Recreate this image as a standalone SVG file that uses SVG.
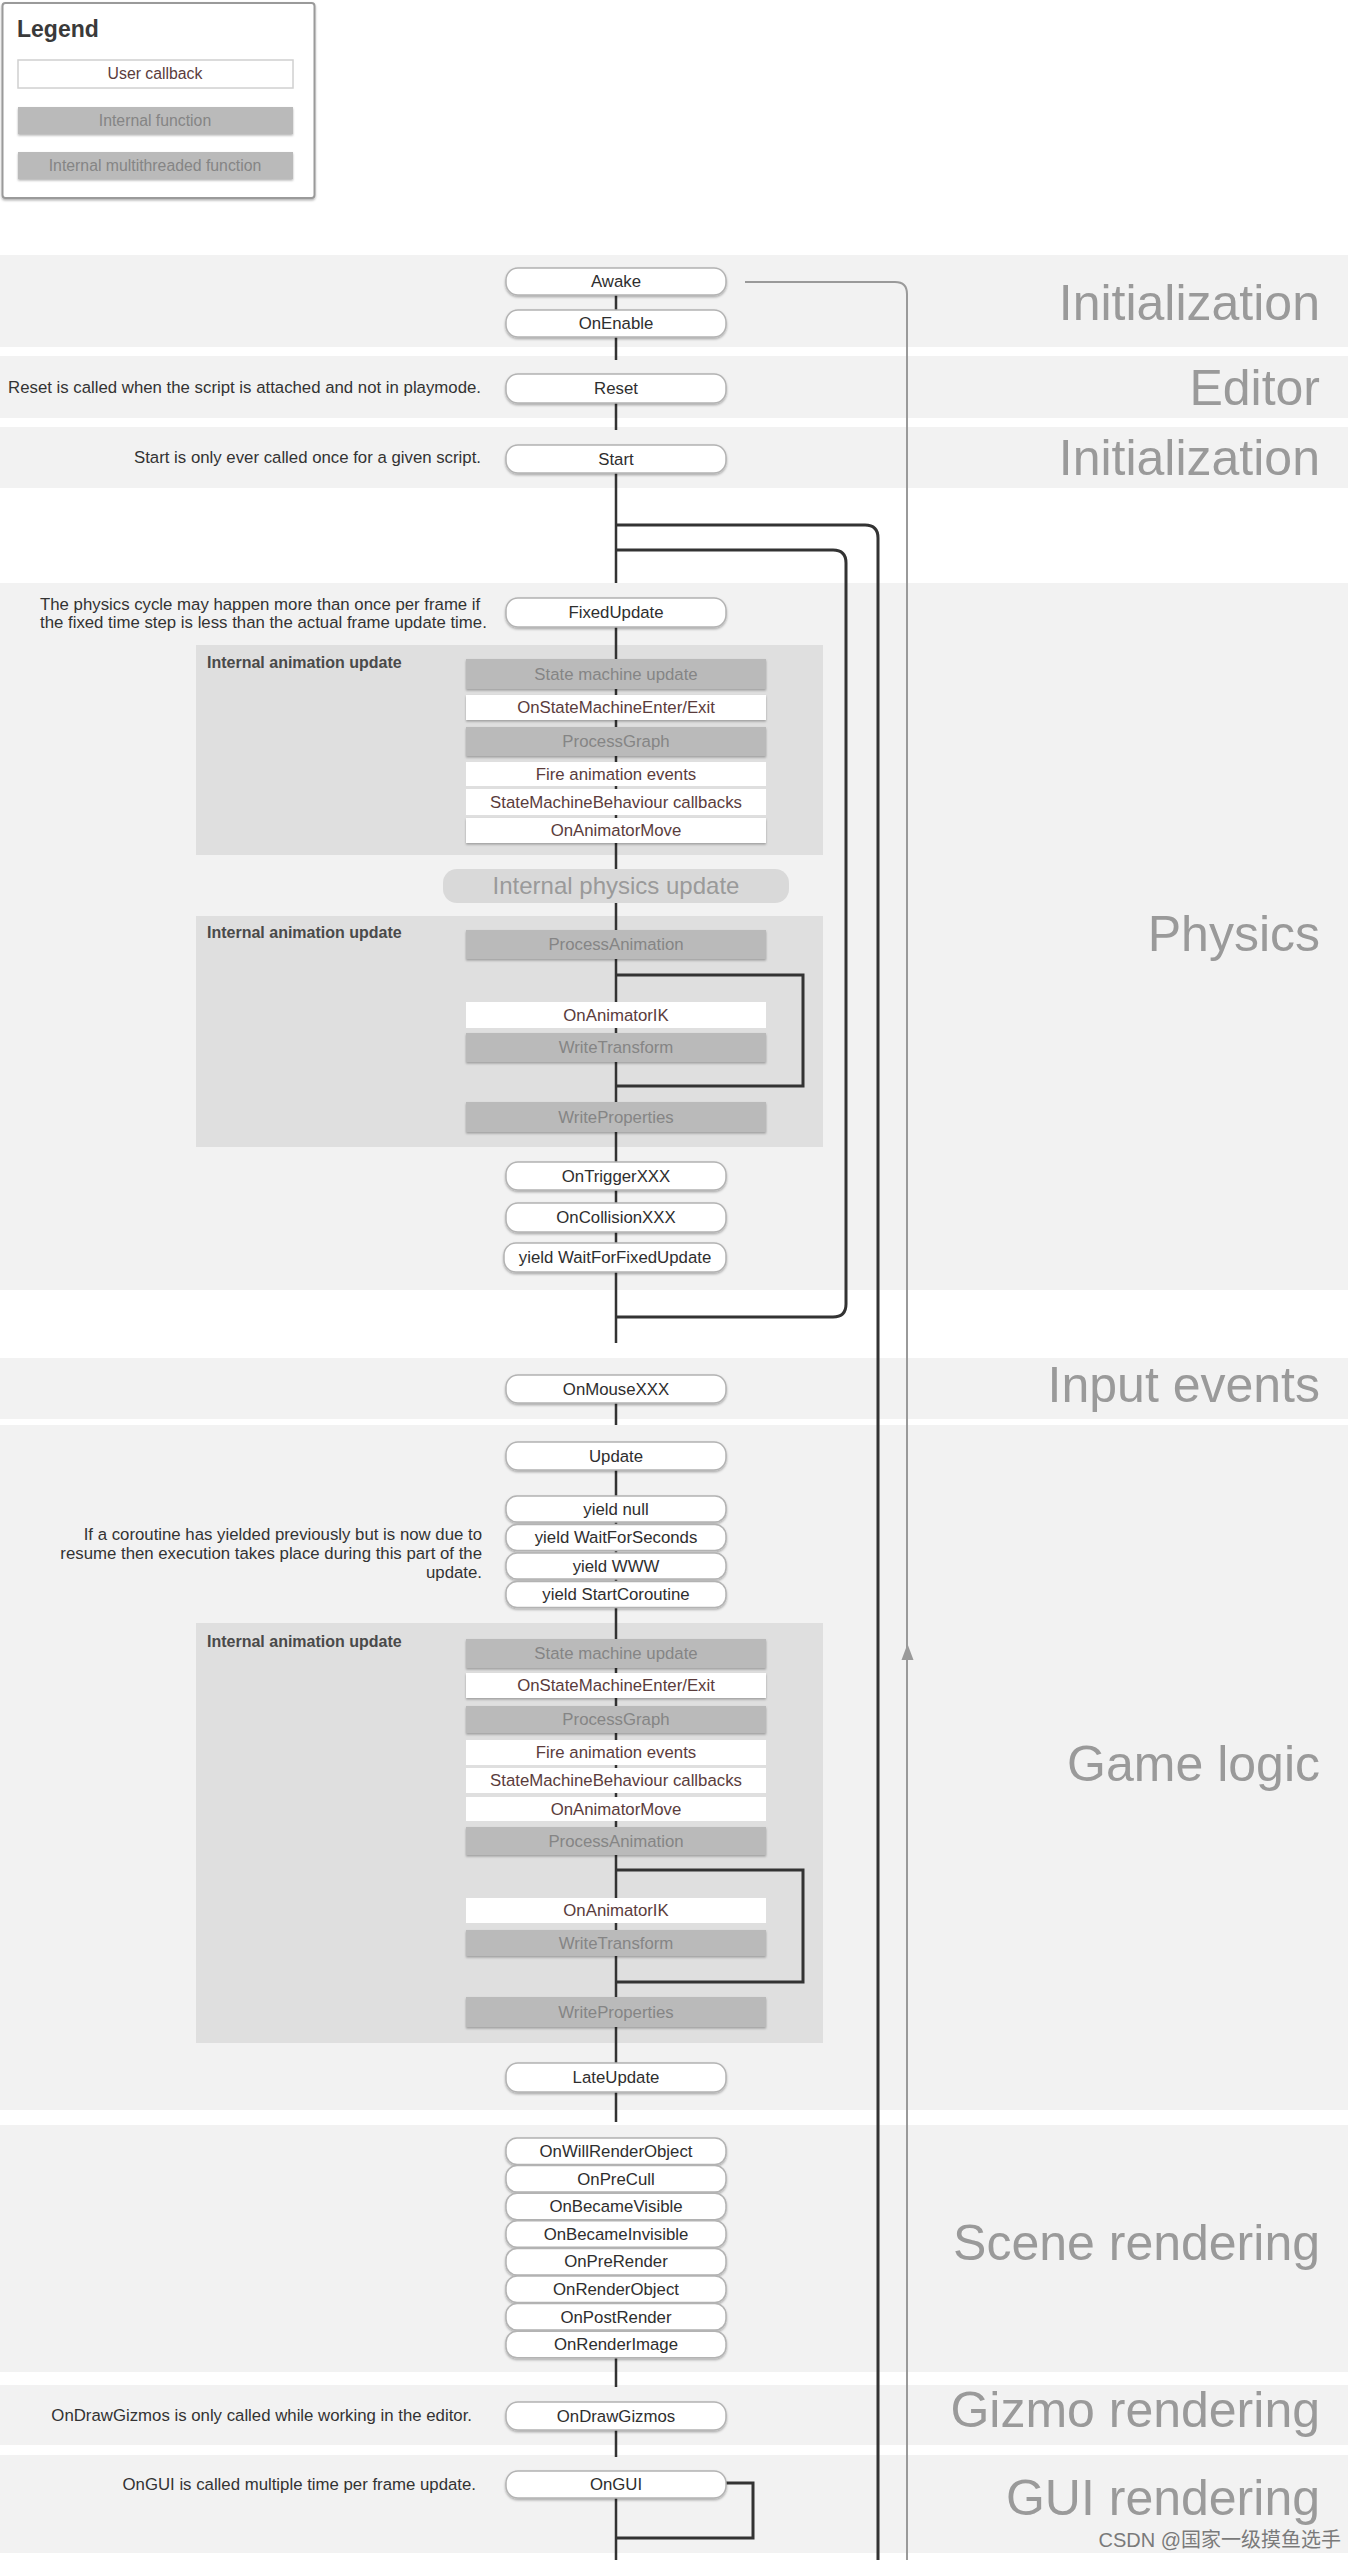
<svg xmlns="http://www.w3.org/2000/svg" width="1358" height="2560" viewBox="0 0 1358 2560">
<style>
text{font-family:"Liberation Sans",Arial,sans-serif}
.band{fill:#f2f2f2}
.title{font-size:50px;fill:#9a9a9a;text-anchor:end}
.note{font-size:16.8px;fill:#333}
.node rect.n{fill:#fff;stroke:#b3b3b3;stroke-width:1.5}
.nt{font-size:16.8px;fill:#2e2e2e;text-anchor:middle}
.cb{fill:#fff}
.cbt{font-size:16.8px;fill:#5a3c3c;text-anchor:middle}
.int{fill:#bababa}
.intt{font-size:16.8px;fill:#858585;text-anchor:middle}
.anim{fill:#dfdfdf}
.albl{font-size:16px;font-weight:bold;fill:#4a4a4a}
.main{stroke:#333;stroke-width:2.5;fill:none}
.loop{stroke:#333;stroke-width:3;fill:none}
.light{stroke:#9a9a9a;stroke-width:2;fill:none}
</style>
<defs>
<filter id="sh" x="-5%" y="-20%" width="110%" height="150%">
<feDropShadow dx="0" dy="1.5" stdDeviation="1" flood-color="#000" flood-opacity="0.3"/>
</filter>
</defs>
<rect width="1358" height="2560" fill="#fff"/>

<g id="bands">
<rect class="band" x="0" y="255" width="1348" height="92"/>
<rect class="band" x="0" y="356" width="1348" height="62"/>
<rect class="band" x="0" y="427" width="1348" height="61"/>
<rect class="band" x="0" y="583" width="1348" height="707"/>
<rect class="band" x="0" y="1358" width="1348" height="61"/>
<rect class="band" x="0" y="1425" width="1348" height="685"/>
<rect class="band" x="0" y="2125" width="1348" height="247"/>
<rect class="band" x="0" y="2385" width="1348" height="60"/>
<rect class="band" x="0" y="2455" width="1348" height="98"/>
<text class="title" x="1320" y="320">Initialization</text>
<text class="title" x="1320" y="405">Editor</text>
<text class="title" x="1320" y="475">Initialization</text>
<text class="title" x="1320" y="951">Physics</text>
<text class="title" x="1320" y="1402">Input events</text>
<text class="title" x="1320" y="1781">Game logic</text>
<text class="title" x="1320" y="2260">Scene rendering</text>
<text class="title" x="1320" y="2427">Gizmo rendering</text>
<text class="title" x="1320" y="2515">GUI rendering</text>
</g>

<g id="legend">
<rect x="2.5" y="3" width="312" height="195" rx="3" fill="#fff" stroke="#9a9a9a" stroke-width="2" filter="url(#sh)"/>
<text x="17" y="37" font-size="23" font-weight="bold" fill="#3a3a3a">Legend</text>
<rect class="cb" x="18" y="60" width="275" height="28" stroke="#d0d0d0" stroke-width="1.5"/>
<text class="cbt" x="155" y="79" style="font-size:15.8px">User callback</text>
<rect class="int" x="18" y="107" width="275" height="27" filter="url(#sh)"/>
<text class="intt" x="155" y="126" style="font-size:15.8px">Internal function</text>
<rect class="int" x="18" y="152" width="275" height="27" filter="url(#sh)"/>
<text class="intt" x="155" y="171" style="font-size:15.8px">Internal multithreaded function</text>
</g>

<g id="anim-boxes">
<rect class="anim" x="196" y="645" width="627" height="210"/>
<text class="albl" x="207" y="668">Internal animation update</text>
<rect class="anim" x="196" y="916" width="627" height="231"/>
<text class="albl" x="207" y="938">Internal animation update</text>
<rect class="anim" x="196" y="1623" width="627" height="420"/>
<text class="albl" x="207" y="1647">Internal animation update</text>
</g>

<g id="notes">
<text class="note" x="481" y="393" text-anchor="end">Reset is called when the script is attached and not in playmode.</text>
<text class="note" x="481" y="463" text-anchor="end">Start is only ever called once for a given script.</text>
<text class="note" x="40" y="610">The physics cycle may happen more than once per frame if</text>
<text class="note" x="40" y="628">the fixed time step is less than the actual frame update time.</text>
<text class="note" x="482" y="1540" text-anchor="end">If a coroutine has yielded previously but is now due to</text>
<text class="note" x="482" y="1559" text-anchor="end">resume then execution takes place during this part of the</text>
<text class="note" x="482" y="1578" text-anchor="end">update.</text>
<text class="note" x="472" y="2421" text-anchor="end">OnDrawGizmos is only called while working in the editor.</text>
<text class="note" x="476" y="2490" text-anchor="end">OnGUI is called multiple time per frame update.</text>
</g>

<g id="connectors">
<path class="light" d="M745 282 H895 Q907 282 907 294 V2560"/>
<path d="M907.5 1644 L901.5 1660 L913.5 1660 Z" fill="#9a9a9a"/>
<path class="loop" d="M616 525 H865 Q878 525 878 538 V2560"/>
<path class="loop" d="M616 550 H833 Q846 550 846 563 V1304 Q846 1317 833 1317 H616"/>
<path class="loop" d="M616 975 H803 V1086 H616"/>
<path class="loop" d="M616 1870 H803 V1982 H616"/>
<path class="loop" d="M726 2483 H753 V2538 H616"/>
<path class="main" d="M616 295 V310 M616 337 V360 M616 403 V430 M616 473 V583 M616 627 V1343 M616 1403 V1425 M616 1470 V2122 M616 2358 V2387 M616 2430 V2457 M616 2498 V2560"/>
</g>

<g id="node-awake" class="node"><rect class="n" x="506" y="268" width="220" height="27" rx="12" filter="url(#sh)"/><text class="nt" x="616" y="287">Awake</text></g>
<g id="node-onenable" class="node"><rect class="n" x="506" y="310" width="220" height="27" rx="12" filter="url(#sh)"/><text class="nt" x="616" y="329">OnEnable</text></g>
<g id="node-reset" class="node"><rect class="n" x="506" y="374" width="220" height="29" rx="12" filter="url(#sh)"/><text class="nt" x="616" y="394">Reset</text></g>
<g id="node-start" class="node"><rect class="n" x="506" y="445" width="220" height="28" rx="12" filter="url(#sh)"/><text class="nt" x="616" y="465">Start</text></g>
<g id="node-fixedupdate" class="node"><rect class="n" x="506" y="598" width="220" height="29" rx="12" filter="url(#sh)"/><text class="nt" x="616" y="618">FixedUpdate</text></g>

<g id="node-p-statemachine"><rect class="int" x="466" y="659" width="300" height="30" filter="url(#sh)"/><text class="intt" x="616" y="680">State machine update</text></g>
<g id="node-p-enterexit"><rect class="cb" x="466" y="695" width="300" height="25" filter="url(#sh)"/><text class="cbt" x="616" y="713">OnStateMachineEnter/Exit</text></g>
<g id="node-p-processgraph"><rect class="int" x="466" y="727" width="300" height="29" filter="url(#sh)"/><text class="intt" x="616" y="747">ProcessGraph</text></g>
<g id="node-p-fireevents"><rect class="cb" x="466" y="762" width="300" height="24"/><text class="cbt" x="616" y="780">Fire animation events</text></g>
<g id="node-p-smb"><rect class="cb" x="466" y="789" width="300" height="26"/><text class="cbt" x="616" y="808">StateMachineBehaviour callbacks</text></g>
<g id="node-p-animmove"><rect class="cb" x="466" y="818" width="300" height="25" filter="url(#sh)"/><text class="cbt" x="616" y="836">OnAnimatorMove</text></g>

<g id="node-physics"><rect x="443" y="869" width="346" height="34" rx="14" fill="#d9d9d9"/><text x="616" y="894" font-size="24" fill="#9a9a9a" text-anchor="middle">Internal physics update</text></g>

<g id="node-p-processanim"><rect class="int" x="466" y="930" width="300" height="29" filter="url(#sh)"/><text class="intt" x="616" y="950">ProcessAnimation</text></g>
<g id="node-p-animik"><rect class="cb" x="466" y="1002" width="300" height="26"/><text class="cbt" x="616" y="1021">OnAnimatorIK</text></g>
<g id="node-p-writetransform"><rect class="int" x="466" y="1033" width="300" height="29" filter="url(#sh)"/><text class="intt" x="616" y="1053">WriteTransform</text></g>
<g id="node-p-writeprops"><rect class="int" x="466" y="1102" width="300" height="30" filter="url(#sh)"/><text class="intt" x="616" y="1123">WriteProperties</text></g>

<g id="node-ontrigger" class="node"><rect class="n" x="506" y="1162" width="220" height="28" rx="12" filter="url(#sh)"/><text class="nt" x="616" y="1182">OnTriggerXXX</text></g>
<g id="node-oncollision" class="node"><rect class="n" x="506" y="1203" width="220" height="29" rx="12" filter="url(#sh)"/><text class="nt" x="616" y="1223">OnCollisionXXX</text></g>
<g id="node-waitfixed" class="node"><rect class="n" x="504" y="1243" width="222" height="29" rx="12" filter="url(#sh)"/><text class="nt" x="615" y="1263">yield WaitForFixedUpdate</text></g>

<g id="node-onmouse" class="node"><rect class="n" x="506" y="1375" width="220" height="28" rx="12" filter="url(#sh)"/><text class="nt" x="616" y="1395">OnMouseXXX</text></g>
<g id="node-update" class="node"><rect class="n" x="506" y="1442" width="220" height="28" rx="12" filter="url(#sh)"/><text class="nt" x="616" y="1462">Update</text></g>
<g id="node-yieldnull" class="node"><rect class="n" x="506" y="1496" width="220" height="26" rx="11" filter="url(#sh)"/><text class="nt" x="616" y="1515">yield null</text></g>
<g id="node-yieldwait" class="node"><rect class="n" x="506" y="1524.5" width="220" height="26" rx="11" filter="url(#sh)"/><text class="nt" x="616" y="1543">yield WaitForSeconds</text></g>
<g id="node-yieldwww" class="node"><rect class="n" x="506" y="1553" width="220" height="26" rx="11" filter="url(#sh)"/><text class="nt" x="616" y="1572">yield WWW</text></g>
<g id="node-yieldstart" class="node"><rect class="n" x="506" y="1581.5" width="220" height="26" rx="11" filter="url(#sh)"/><text class="nt" x="616" y="1600">yield StartCoroutine</text></g>

<g id="node-g-statemachine"><rect class="int" x="466" y="1639" width="300" height="29" filter="url(#sh)"/><text class="intt" x="616" y="1659">State machine update</text></g>
<g id="node-g-enterexit"><rect class="cb" x="466" y="1673" width="300" height="25" filter="url(#sh)"/><text class="cbt" x="616" y="1691">OnStateMachineEnter/Exit</text></g>
<g id="node-g-processgraph"><rect class="int" x="466" y="1706" width="300" height="27" filter="url(#sh)"/><text class="intt" x="616" y="1725">ProcessGraph</text></g>
<g id="node-g-fireevents"><rect class="cb" x="466" y="1740" width="300" height="25"/><text class="cbt" x="616" y="1758">Fire animation events</text></g>
<g id="node-g-smb"><rect class="cb" x="466" y="1768" width="300" height="25"/><text class="cbt" x="616" y="1786">StateMachineBehaviour callbacks</text></g>
<g id="node-g-animmove"><rect class="cb" x="466" y="1797" width="300" height="24"/><text class="cbt" x="616" y="1815">OnAnimatorMove</text></g>
<g id="node-g-processanim"><rect class="int" x="466" y="1827" width="300" height="28" filter="url(#sh)"/><text class="intt" x="616" y="1847">ProcessAnimation</text></g>
<g id="node-g-animik"><rect class="cb" x="466" y="1898" width="300" height="25"/><text class="cbt" x="616" y="1916">OnAnimatorIK</text></g>
<g id="node-g-writetransform"><rect class="int" x="466" y="1930" width="300" height="26" filter="url(#sh)"/><text class="intt" x="616" y="1949">WriteTransform</text></g>
<g id="node-g-writeprops"><rect class="int" x="466" y="1997" width="300" height="30" filter="url(#sh)"/><text class="intt" x="616" y="2018">WriteProperties</text></g>

<g id="node-lateupdate" class="node"><rect class="n" x="506" y="2063" width="220" height="29" rx="12" filter="url(#sh)"/><text class="nt" x="616" y="2083">LateUpdate</text></g>

<g id="node-onwillrender" class="node"><rect class="n" x="506" y="2138" width="220" height="26.5" rx="11" filter="url(#sh)"/><text class="nt" x="616" y="2157">OnWillRenderObject</text></g>
<g id="node-onprecull" class="node"><rect class="n" x="506" y="2165.6" width="220" height="26.5" rx="11" filter="url(#sh)"/><text class="nt" x="616" y="2184.6">OnPreCull</text></g>
<g id="node-onbecamevisible" class="node"><rect class="n" x="506" y="2193.2" width="220" height="26.5" rx="11" filter="url(#sh)"/><text class="nt" x="616" y="2212.2">OnBecameVisible</text></g>
<g id="node-onbecameinvisible" class="node"><rect class="n" x="506" y="2220.8" width="220" height="26.5" rx="11" filter="url(#sh)"/><text class="nt" x="616" y="2239.8">OnBecameInvisible</text></g>
<g id="node-onprerender" class="node"><rect class="n" x="506" y="2248.4" width="220" height="26.5" rx="11" filter="url(#sh)"/><text class="nt" x="616" y="2267.4">OnPreRender</text></g>
<g id="node-onrenderobject" class="node"><rect class="n" x="506" y="2276" width="220" height="26.5" rx="11" filter="url(#sh)"/><text class="nt" x="616" y="2295">OnRenderObject</text></g>
<g id="node-onpostrender" class="node"><rect class="n" x="506" y="2303.6" width="220" height="26.5" rx="11" filter="url(#sh)"/><text class="nt" x="616" y="2322.6">OnPostRender</text></g>
<g id="node-onrenderimage" class="node"><rect class="n" x="506" y="2331.2" width="220" height="26.5" rx="11" filter="url(#sh)"/><text class="nt" x="616" y="2350.2">OnRenderImage</text></g>

<g id="node-ondrawgizmos" class="node"><rect class="n" x="506" y="2402" width="220" height="28" rx="12" filter="url(#sh)"/><text class="nt" x="616" y="2422">OnDrawGizmos</text></g>
<g id="node-ongui" class="node"><rect class="n" x="506" y="2471" width="220" height="27" rx="12" filter="url(#sh)"/><text class="nt" x="616" y="2490">OnGUI</text></g>

<text x="1341" y="2547" font-size="20" fill="#7a7a7a" text-anchor="end" style="font-family:'Liberation Sans','Noto Sans CJK SC',sans-serif">CSDN @国家一级摸鱼选手</text>
</svg>
